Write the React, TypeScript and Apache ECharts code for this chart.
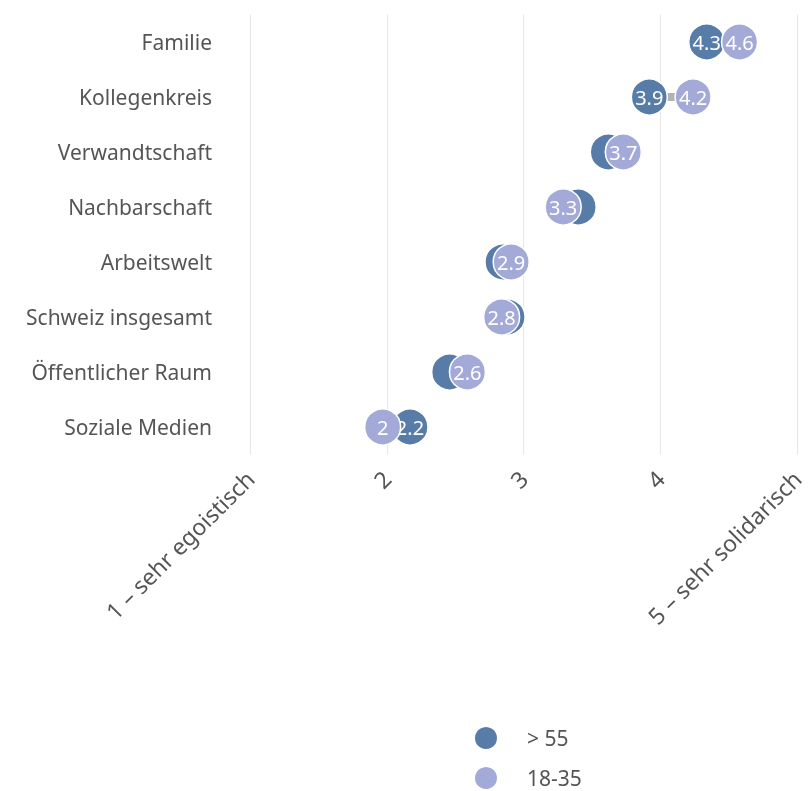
import React, { useEffect, useRef } from "react";
import * as echarts from "echarts";

const categories = [
  "Familie",
  "Kollegenkreis",
  "Verwandtschaft",
  "Nachbarschaft",
  "Arbeitswelt",
  "Schweiz insgesamt",
  "Öffentlicher Raum",
  "Soziale Medien",
];
const olderValues = [4.34, 3.92, 3.62, 3.4, 2.85, 2.88, 2.46, 2.17];
const youngValues = [4.58, 4.24, 3.73, 3.29, 2.91, 2.84, 2.59, 1.97];
const seriesNames = ["> 55", "18-35"];
const xTickLabels: Record<number, string> = {
  1: "1 – sehr egoistisch",
  2: "2",
  3: "3",
  4: "4",
  5: "5 – sehr solidarisch",
};

const FONT = "Noto Sans";
const TEXT = "#555555";
const DARK = "#587ca8";
const LIGHT = "#a4aad8";

export default function App() {
  const ref = useRef<HTMLDivElement>(null);
  useEffect(() => {
    if (!ref.current) return;
    const chart = echarts.init(ref.current, null, { renderer: "svg" });
    const fmt = (p: any) => String(Math.round(p.value[0] * 10) / 10);
    const labelStyle = {
      position: "inside",
      color: "#ffffff",
      fontSize: 20,
      fontFamily: FONT,
      formatter: fmt,
    };
    chart.setOption({
      animation: false,
      textStyle: { fontFamily: FONT },
      grid: { left: 250, right: 11, top: 14.5, bottom: 336.5 },
      xAxis: {
        type: "value",
        min: 1,
        max: 5,
        interval: 1,
        axisLine: { show: false },
        axisTick: { show: false },
        splitLine: { show: true, lineStyle: { color: "#e6e6e6", width: 1 } },
        axisLabel: {
          rotate: 45,
          margin: 20,
          fontSize: 23,
          color: TEXT,
          fontFamily: FONT,
          formatter: (v: number) => xTickLabels[v] ?? String(v),
        },
      },
      yAxis: {
        type: "category",
        data: categories,
        inverse: true,
        axisLine: { show: false },
        axisTick: { show: false },
        splitLine: { show: false },
        axisLabel: { margin: 38, fontSize: 21, color: TEXT, fontFamily: FONT },
      },
      legend: {
        orient: "vertical",
        left: 473,
        top: 725,
        height: 80,
        padding: 0,
        itemWidth: 24,
        itemHeight: 24,
        itemGap: 14,
        data: [
          { name: seriesNames[0], icon: "circle" },
          { name: seriesNames[1], icon: "circle" },
        ],
        textStyle: {
          fontSize: 21,
          lineHeight: 20,
          color: TEXT,
          fontFamily: FONT,
          padding: [0, 0, 0, 24],
        },
      },
      series: [
        {
          type: "custom",
          z: 1,
          silent: true,
          encode: { x: [0, 1], y: 2 },
          data: olderValues.map((v, i) => [v, youngValues[i], i]),
          renderItem: (params: any, api: any) => {
            const a = api.coord([api.value(0), api.value(2)]);
            const b = api.coord([api.value(1), api.value(2)]);
            return {
              type: "line",
              shape: { x1: a[0], y1: a[1], x2: b[0], y2: b[1] },
              style: { stroke: "#b3b3b3", lineWidth: 8 },
            };
          },
        },
        {
          name: seriesNames[0],
          type: "scatter",
          z: 2,
          symbol: "circle",
          symbolSize: 36,
          itemStyle: { color: DARK, borderColor: "#ffffff", borderWidth: 1.5, opacity: 1 },
          label: { show: true, ...labelStyle },
          data: olderValues.map((v, i) => ({
            value: [v, categories[i]],
            label: { show: Math.abs(v - youngValues[i]) > 0.18 },
          })),
        },
        {
          name: seriesNames[1],
          type: "scatter",
          z: 3,
          symbol: "circle",
          symbolSize: 36,
          itemStyle: { color: LIGHT, borderColor: "#ffffff", borderWidth: 1.5, opacity: 1 },
          label: { show: true, ...labelStyle },
          data: youngValues.map((v, i) => [v, categories[i]]),
        },
      ],
    });
    return () => chart.dispose();
  }, []);
  return (
    <div
      ref={ref}
      style={{ position: "fixed", left: 0, top: 0, width: 808, height: 791 }}
    />
  );
}
